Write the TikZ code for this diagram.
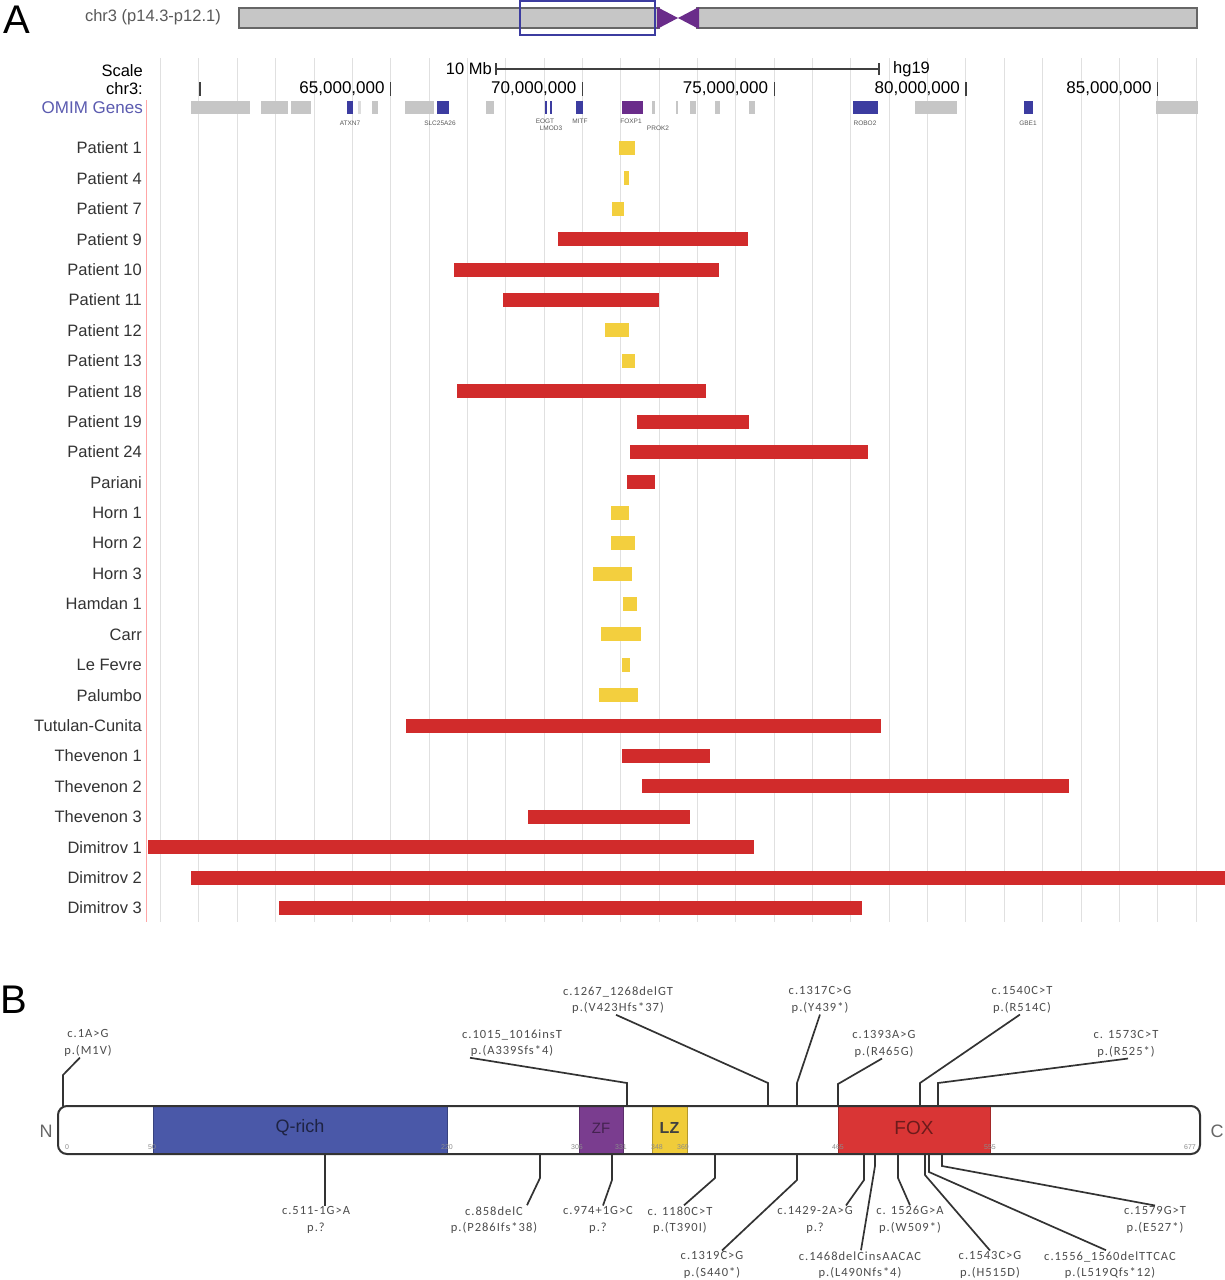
\documentclass[tikz,border=0pt]{standalone}
\usepackage{fontspec}
\setmainfont{Liberation Sans}
\newfontfamily\calib[LetterSpace=8]{Carlito}
\usetikzlibrary{positioning}

\definecolor{delred}{HTML}{D12B2B}
\definecolor{smallyel}{HTML}{F3CF3E}
\definecolor{omimblue}{HTML}{5B5BB0}
\definecolor{genenavy}{HTML}{3C3CA0}
\definecolor{genegray}{HTML}{C6C6C6}
\definecolor{foxpurple}{HTML}{6A2C8A}
\definecolor{qblue}{HTML}{4A58A8}
\definecolor{zfpurple}{HTML}{7A3D8F}
\definecolor{lzyel}{HTML}{F0CC3A}
\definecolor{foxred}{HTML}{D93535}

\newcommand{\fsz}[1]{\fontsize{#1}{#1}\selectfont}

\begin{document}
\begin{tikzpicture}[
    x=1pt, y=-1pt,
    panel/.style={font=\fsz{40}, inner sep=0pt},
    rowlabel/.style={anchor=east, font=\fsz{16.5}, text=black!80, inner sep=0pt},
    toplabel/.style={anchor=east, font=\fsz{16.5}, inner sep=0pt},
    gridline/.style={black!12, line width=1pt},
    tick/.style={black!75, line width=1.2pt},
    genelabel/.style={font=\fsz{6.5}, text=black!65, inner sep=0pt},
    mut/.style={align=center, inner sep=1pt, text=black!70, font=\calib\fontsize{12.5}{16.5}\selectfont},
    leader/.style={black!80, line width=1.7pt},
    domlabel/.style={inner sep=0pt},
    aanum/.style={font=\fsz{7}, text=black!45, inner sep=0pt}
  ]

  \useasboundingbox[fill=white] (0,0) rectangle (1225,1280);

  % ---------------- panel A ----------------
  \node[panel] (lblA) at (17,20) {A};

  % ideogram
  \node[toplabel, text=black!65] (chrname) at (221,17) {chr3 (p14.3-p12.1)};
  \draw[black!60, fill=genegray, line width=1.2pt] (239,8) rectangle (659,28);
  \draw[black!60, fill=genegray, line width=1.2pt] (697,8) rectangle (1197,28);
  \fill[foxpurple] (657,7) -- (678,18) -- (657,29) -- cycle;
  \fill[foxpurple] (699,7) -- (678,18) -- (699,29) -- cycle;
  \draw[genenavy, line width=1.5pt] (520,1) rectangle (655,35);

  % grid
  \foreach \k in {0,...,27}
    \draw[gridline] ({160.6+38.35*\k},58) -- ({160.6+38.35*\k},922);
  \draw[red!35, line width=0.8pt] (146,100) -- (146,922);

  % scale and positions
  \node[toplabel] (scl) at (143,71) {Scale};
  \node[toplabel] (chrl) at (143,89) {chr3:};
  \node[toplabel, font=\fsz{17}, text=omimblue] (omim) at (143,108) {OMIM Genes};

  \coordinate (sbl) at (496,69);
  \coordinate (sbr) at (879,69);
  \draw[tick] (sbl) -- (sbr);
  \draw[tick] ([yshift=-6]sbl) -- ([yshift=6]sbl);
  \draw[tick] ([yshift=-6]sbr) -- ([yshift=6]sbr);
  \node[toplabel] (mb) at ([xshift=-4]sbl) {10 Mb};
  \node[toplabel, anchor=west] (hg) at ([xshift=14]sbr) {hg19};

  \draw[tick] (200,82) -- (200,96);
  \foreach \m in {65,70,75,80,85} {
    \pgfmathsetmacro\xx{199+38.35*(\m-60)}
    \draw[tick] (\xx,82) -- (\xx,96);
    \node[toplabel, font=\fsz{17}] (pos\m) at (\xx-6,89) {\m,000,000};
  }

  % OMIM genes
  \foreach \a/\b in {191/250, 261/288, 291/311, 372/378, 405/434, 486/494, 652/655,
                     676/678, 690/696, 715/720, 749/755, 915/957, 1156/1198}
    \fill[genegray] (\a,101) rectangle (\b,114);
  \fill[genegray!60] (358,101) rectangle (361,114);
  \foreach \a/\b in {347/353, 437/449, 545/547, 550/552, 576/583, 853/878, 1024/1033}
    \fill[genenavy] (\a,101) rectangle (\b,114);
  \fill[foxpurple] (622,101) rectangle (643,114);

  \node[genelabel] (g1) at (350,123) {ATXN7};
  \node[genelabel] (g2) at (440,123) {SLC25A26};
  \node[genelabel] (g3) at (545,121) {EOGT};
  \node[genelabel] (g4) at (580,121) {MITF};
  \node[genelabel] (g5) at (551,128) {LMOD3};
  \node[genelabel] (g6) at (631,121) {FOXP1};
  \node[genelabel] (g7) at (658,128) {PROK2};
  \node[genelabel] (g8) at (865,123) {ROBO2};
  \node[genelabel] (g9) at (1028,123) {GBE1};

  % patients
  \foreach \name/\a/\b/\col [count=\i] in {
      Patient 1/619/635/smallyel, Patient 4/624/629/smallyel, Patient 7/612/624/smallyel,
      Patient 9/558/748/delred, Patient 10/454/719/delred, Patient 11/503/659/delred,
      Patient 12/605/629/smallyel, Patient 13/622/635/smallyel, Patient 18/457/706/delred,
      Patient 19/637/749/delred, Patient 24/630/868/delred, Pariani/627/655/delred,
      Horn 1/611/629/smallyel, Horn 2/611/635/smallyel, Horn 3/593/632/smallyel,
      Hamdan 1/623/637/smallyel, Carr/601/641/smallyel, Le Fevre/622/630/smallyel,
      Palumbo/599/638/smallyel, Tutulan-Cunita/406/881/delred, Thevenon 1/622/710/delred,
      Thevenon 2/642/1069/delred, Thevenon 3/528/690/delred, Dimitrov 1/148/754/delred,
      Dimitrov 2/191/1225/delred, Dimitrov 3/279/862/delred} {
    \pgfmathsetmacro\yy{148+30.4*(\i-1)}
    \node[rowlabel] (row\i) at (142,\yy) {\name};
    \fill[\col] (\a,\yy-7) rectangle (\b,\yy+7);
  }

  % ---------------- panel B ----------------
  \node[panel] (lblB) at (14,1000) {B};

  \fill[white] (58,1106) rectangle (1200,1154);
  \foreach \a/\b/\col/\lab/\tcol/\fs/\nm in {
      153/447/qblue/Q-rich/black!60!qblue/18/qrich, 579/623/zfpurple/ZF/black!45!zfpurple/15/zf,
      652/687/lzyel/\textbf{LZ}/black!75/16/lz, 838/990/foxred/FOX/black!50!foxred/19/fox} {
    \fill[\col, draw=\col!75!black, line width=1pt] (\a,1106) rectangle (\b,1154);
    \node[domlabel, text=\tcol, font=\fsz{\fs}] (\nm) at ({(\a+\b)/2},1128) {\lab};
  }
  \draw[black!80, line width=2pt, rounded corners=9pt] (58,1106) rectangle (1200,1154);

  \foreach \x/\n in {67/0, 152/50, 447/220, 577/306, 621/331, 657/348, 683/369,
                     838/465, 990/555, 1190/677}
    \node[aanum] (aa\n) at (\x,1147) {\n};

  \node[font=\fsz{18}, text=black!60, inner sep=0pt] (nterm) at (46,1131) {N};
  \node[font=\fsz{18}, text=black!60, inner sep=0pt] (cterm) at (1217,1131) {C};

  % mutations above the protein
  \foreach \tx/\ty/\txt/\dx/\bx/\ky [count=\i] in {
      88/1043/c.1A>G\\p.(M1V)/-8/63/1075,
      512/1043/c.1015\_1016insT\\p.(A339Sfs*4)/-42/627/1083,
      618/1000/c.1267\_1268delGT\\p.(V423Hfs*37)/-2/768/1083,
      820/1000/c.1317C>G\\p.(Y439*)/0/797/1083,
      884/1044/c.1393A>G\\p.(R465G)/-2/838/1084,
      1022/1000/c.1540C>T\\p.(R514C)/-2/920/1083,
      1126/1044/c. 1573C>T\\p.(R525*)/2/938/1083} {
    \node[mut] (up\i) at (\tx,\ty) {\txt};
    \coordinate (upk\i) at (\bx,\ky);
    \coordinate (ups\i) at (\bx,1106);
    \draw[leader] ([xshift=\dx]up\i.south) -- (upk\i) -- (ups\i);
  }

  % mutations below the protein
  \foreach \tx/\ty/\txt/\dx/\bx/\ky [count=\i] in {
      316/1220/c.511-1G>A\\p.?/9/325/1180,
      494/1220/c.858delC\\p.(P286Ifs*38)/33/540/1178,
      598/1220/c.974+1G>C\\p.?/5/612/1180,
      680/1220/c. 1180C>T\\p.(T390I)/4/715/1178,
      712/1265/c.1319C>G\\p.(S440*)/10/797/1180,
      815/1220/c.1429-2A>G\\p.?/31/864/1180,
      860/1265/c.1468delCinsAACAC\\p.(L490Nfs*4)/1/875/1166,
      910/1220/c. 1526G>A\\p.(W509*)/0/898/1178,
      990/1265/c.1543C>G\\p.(H515D)/0/925/1175,
      1110/1265/c.1556\_1560delTTCAC\\p.(L519Qfs*12)/-4/929/1172,
      1155/1220/c.1579G>T\\p.(E527*)/0/942/1166} {
    \node[mut] (dn\i) at (\tx,\ty) {\txt};
    \coordinate (dnk\i) at (\bx,\ky);
    \coordinate (dns\i) at (\bx,1154);
    \draw[leader] (dns\i) -- (dnk\i) -- ([xshift=\dx]dn\i.north);
  }

\end{tikzpicture}
\end{document}
